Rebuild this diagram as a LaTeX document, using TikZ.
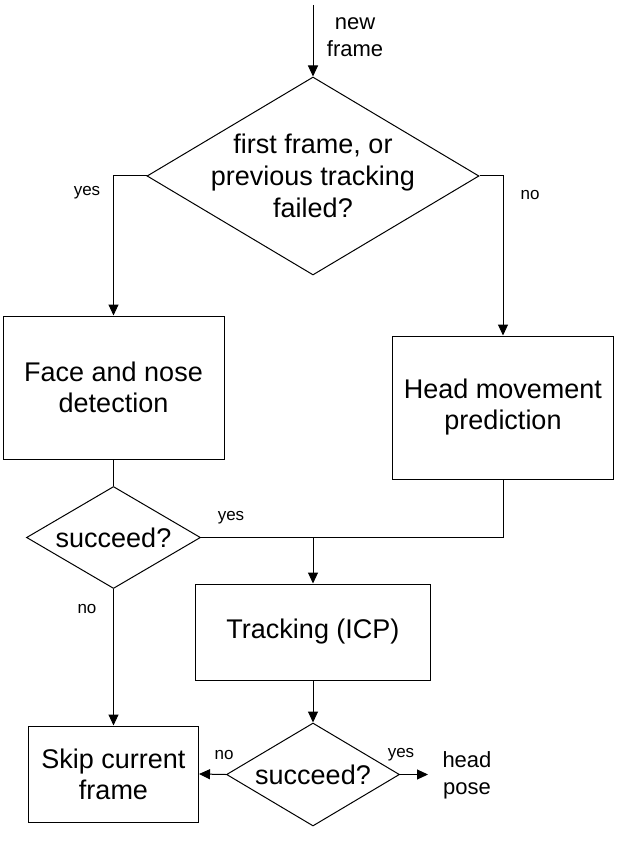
\documentclass[tikz,border=0pt]{standalone}
\usepackage{fontspec}
\setmainfont{Liberation Sans}
\usetikzlibrary{shapes.geometric,arrows.meta}

\begin{document}
\begin{tikzpicture}[x=1pt,y=-1pt,line width=1pt,
    arr/.style={-{Triangle[length=11pt,width=10pt]}},
    block/.style={draw, rectangle, inner sep=0pt, align=center, font=\fontsize{27}{31}\selectfont},
    decision/.style={draw, diamond, aspect=1.7, inner sep=0pt, font=\fontsize{27}{32}\selectfont},
    tag/.style={inner sep=0pt, font=\fontsize{17}{20}\selectfont},
    note/.style={inner sep=0pt, align=center, font=\fontsize{22}{27}\selectfont}]
  \useasboundingbox (0,0) rectangle (616,858);
  % upper part
  \coordinate (start) at (313,5);
  \node[note] (newframe) at (355,37) {new\\frame};
  \node[decision, minimum width=332pt, minimum height=198pt] (first) at (313,176) {};
  \node[note, font=\fontsize{27}{32}\selectfont] (firsttext) at (first) {first frame, or\\previous tracking\\failed?};
  \node[block, minimum width=221pt, minimum height=143pt] (face) at (113.5,387.5) {Face and nose\\detection};
  \node[block, minimum width=221pt, minimum height=143pt] (head) at (503,407.5) {Head movement\\prediction};
  % lower part
  \node[decision, minimum width=174pt, minimum height=102pt] (succa) at (113.5,537.5) {succeed?};
  \coordinate (join) at (313,537.5);
  \node[block, minimum width=235pt, minimum height=96pt] (track) at (313,632) {Tracking (ICP)};
  \node[block, minimum width=170pt, minimum height=96pt] (skip) at (113.5,774) {Skip current\\frame};
  \node[decision, minimum width=173pt, minimum height=103pt] (succb) at (313,774.5) {succeed?};
  \node[note, anchor=west] (pose) at (442,775) {head\\pose};
  % yes / no
  \node[tag] (yesa) at (87,193) {yes};
  \node[tag] (noa) at (530,195) {no};
  \node[tag] (yesb) at (231,518) {yes};
  \node[tag] (nob) at (87,609) {no};
  \node[tag] (noc) at (224,755) {no};
  \node[tag] (yesc) at (401,755) {yes};
  % connectors
  \draw[arr] (start) -- (first.north);
  \draw[arr] (first.west) -| (face.north);
  \draw[arr] (first.east) -| (head.north);
  \draw (face.south) -- (succa.north);
  \draw (succa.east) -- (join);
  \draw (head.south) |- (join);
  \draw[arr] (join) -- (track.north);
  \draw[arr] (succa.south) -- (skip.north);
  \draw[arr] (track.south) -- (succb.north);
  \draw[arr] (succb.west) -- (skip.east);
  \draw[arr, shorten >=14pt] (succb.east) -- (pose.west |- succb.east);
\end{tikzpicture}
\end{document}
